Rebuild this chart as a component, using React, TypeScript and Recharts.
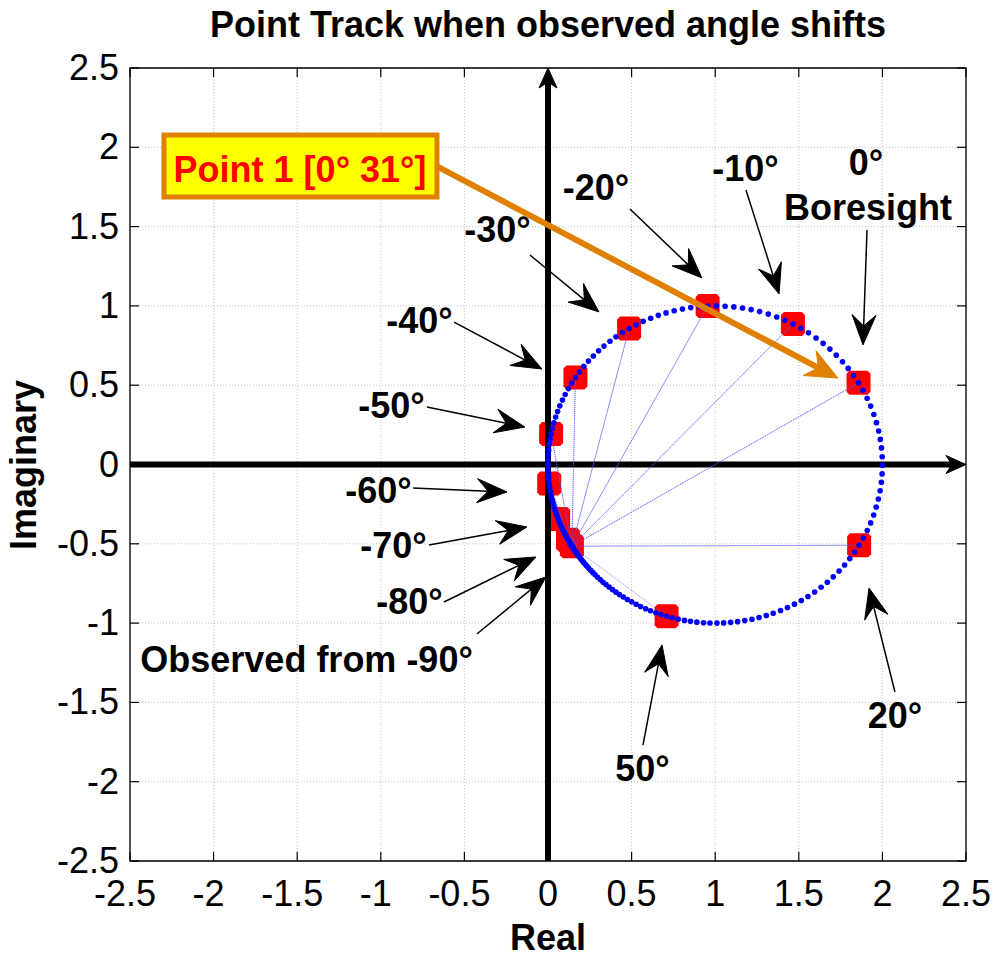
import React from "react";
import {
  ScatterChart,
  Scatter,
  XAxis,
  YAxis,
  CartesianGrid,
  ReferenceLine,
  ReferenceDot,
  ReferenceArea,
} from "recharts";

// Phase (deg) of the tracked point around the circle centre, one entry per
// observed angle, from -90° up to 90° in 1° steps.
const trackPhaseDeg = [
  211.0, 211.0, 210.9, 210.8, 210.6, 210.3, 210.0, 209.7, 209.3, 208.8,
  208.3, 207.7, 207.1, 206.4, 205.7, 204.9, 204.0, 203.1, 202.2, 201.2,
  200.1, 199.0, 197.9, 196.7, 195.4, 194.1, 192.8, 191.4, 189.9, 188.4,
  186.9, 185.3, 183.7, 182.0, 180.2, 178.5, 176.6, 174.8, 172.8, 170.9,
  168.9, 166.9, 164.8, 162.6, 160.5, 158.3, 156.0, 153.8, 151.4, 149.1,
  146.7, 144.3, 141.8, 139.3, 136.8, 134.2, 131.7, 129.0, 126.4, 123.7,
  121.0, 118.3, 115.5, 112.7, 109.9, 107.1, 104.2, 101.3, 98.4, 95.5,
  92.6, 89.6, 86.6, 83.6, 80.6, 77.6, 74.6, 71.5, 68.4, 65.4,
  62.3, 59.2, 56.1, 52.9, 49.8, 46.7, 43.6, 40.4, 37.3, 34.1,
  31.0,
  27.9, 24.7, 21.6, 18.4, 15.3, 12.2, 9.1, 6.0, 2.8, -0.3,
  -3.4, -6.4, -9.5, -12.6, -15.6, -18.6, -21.6, -24.6, -27.6, -30.6,
  -33.5, -36.4, -39.3, -42.2, -45.1, -47.9, -50.7, -53.5, -56.3, -59.0,
  -61.7, -64.4, -67.0, -69.7, -72.2, -74.8, -77.3, -79.8, -82.3, -84.7,
  -87.1, -89.4, -91.8, -94.0, -96.3, -98.5, -100.6, -102.8, -104.9, -106.9,
  -108.9, -110.8, -112.8, -114.6, -116.5, -118.2, -120.0, -121.7, -123.3, -124.9,
  -126.4, -127.9, -129.4, -130.8, -132.1, -133.4, -134.7, -135.9, -137.0, -138.1,
  -139.2, -140.2, -141.1, -142.0, -142.9, -143.7, -144.4, -145.1, -145.7, -146.3,
  -146.8, -147.3, -147.7, -148.0, -148.3, -148.6, -148.8, -148.9, -149.0, -149.0,
];
const firstObservedDeg = -90;
const circleCenter = { re: 1, im: 0 };
const circleRadius = 1;

// observed angles that get a red marker, and the one the spokes start from
const markedAnglesDeg = [-90, -80, -70, -60, -50, -40, -30, -20, -10, 0, 20, 50];
const hubAngleDeg = -90;

const axisTicks = [-2.5, -2, -1.5, -1, -0.5, 0, 0.5, 1, 1.5, 2, 2.5];

// callout text anchors (centre/baseline) and arrows, in axis units
const callouts = [
  { text: "-20°", at: [0.287, 1.668], from: [0.49, 1.611], to: [0.921, 1.176] },
  { text: "-10°", at: [1.181, 1.788], from: [1.184, 1.731], to: [1.382, 1.075] },
  { text: "0°", at: [1.902, 1.825] },
  { text: "Boresight", at: [1.914, 1.542], from: [1.908, 1.479], to: [1.884, 0.754] },
  { text: "-30°", at: [-0.302, 1.403], from: [-0.108, 1.321], to: [0.305, 0.962] },
  { text: "-40°", at: [-0.769, 0.829], from: [-0.562, 0.898], to: [-0.036, 0.602] },
  { text: "-50°", at: [-0.936, 0.293], from: [-0.724, 0.363], to: [-0.138, 0.236] },
  { text: "-60°", at: [-1.014, -0.243], from: [-0.807, -0.148], to: [-0.245, -0.173] },
  { text: "-70°", at: [-0.924, -0.59], from: [-0.712, -0.508], to: [-0.126, -0.394] },
  { text: "-80°", at: [-0.828, -0.943], from: [-0.622, -0.867], to: [-0.072, -0.583] },
  { text: "Observed from -90°", at: [-1.444, -1.308], from: [-0.425, -1.069], to: [-0.012, -0.709] },
  { text: "50°", at: [0.565, -1.996], from: [0.568, -1.769], to: [0.682, -1.138] },
  { text: "20°", at: [2.075, -1.661], from: [2.075, -1.434], to: [1.92, -0.779] },
];

const pointLabel = "Point 1 [0° 31°]";
const pointBox = { x1: -2.297, x2: -0.664, y1: 1.687, y2: 2.078 };
const pointLabelAt = [-1.483, 1.781];
const pointArrow = { from: [-0.658, 1.876], to: [1.734, 0.545] };

const W = 995;
const H = 958;
const MARGIN = { top: 68, right: 29, left: 0, bottom: 0 };
const Y_AXIS_W = 130;
const X_AXIS_H = 97;
const PLOT_W = W - MARGIN.right - Y_AXIS_W;
const PLOT_H = H - MARGIN.top - X_AXIS_H;
const TICK_LEN = 9;
const FONT = '"Liberation Sans", Arial, Helvetica, sans-serif';
const ORANGE = "#E08000";

const toPoint = (phaseDeg: number) => {
  const a = (phaseDeg * Math.PI) / 180;
  return {
    x: circleCenter.re + circleRadius * Math.cos(a),
    y: circleCenter.im + circleRadius * Math.sin(a),
  };
};

const track = trackPhaseDeg.map(toPoint);
const pointAt = (deg: number) => track[deg - firstObservedDeg];
const markers = markedAnglesDeg.map(pointAt);
const hub = pointAt(hubAngleDeg);
const spokes = markers.flatMap((p) => [hub, p]);

const BlueDot = (p: any) => <circle cx={p.cx} cy={p.cy} r={2.8} fill="#0000ff" />;

const RedSquare = (p: any) => {
  const h = 12;
  const c = 3;
  const { cx, cy } = p;
  const d = `M${cx - h + c},${cy - h} L${cx + h - c},${cy - h} L${cx + h},${cy - h + c} L${cx + h},${cy + h - c} L${cx + h - c},${cy + h} L${cx - h + c},${cy + h} L${cx - h},${cy + h - c} L${cx - h},${cy - h + c} Z`;
  return <path d={d} fill="#ff0000" />;
};

const NoDot = () => <g />;

// line with a notched arrowhead at the (x2, y2) end
const arrow =
  (color: string, width: number, head: number, half: number, notch: number) =>
  (p: any) => {
    const { x1, y1, x2, y2 } = p;
    const len = Math.hypot(x2 - x1, y2 - y1) || 1;
    const ux = (x2 - x1) / len;
    const uy = (y2 - y1) / len;
    const nx = -uy;
    const ny = ux;
    const bx = x2 - ux * head;
    const by = y2 - uy * head;
    const kx = x2 - ux * notch;
    const ky = y2 - uy * notch;
    const d = `M${x2},${y2} L${bx + nx * half},${by + ny * half} L${kx},${ky} L${bx - nx * half},${by - ny * half} Z`;
    return (
      <g>
        <line x1={x1} y1={y1} x2={kx} y2={ky} stroke={color} strokeWidth={width} />
        <path d={d} fill={color} stroke={color} strokeWidth={1} strokeLinejoin="miter" />
      </g>
    );
  };

const labelShape = (text: string, color = "#000") => (p: any) => (
  <text
    x={p.cx}
    y={p.cy}
    textAnchor="middle"
    fontFamily={FONT}
    fontWeight="bold"
    fontSize={36}
    fill={color}
  >
    {text}
  </text>
);

const XTick = (props: any) => {
  const { x, y, payload } = props;
  const v = payload.value;
  return (
    <g>
      <line x1={x} y1={y} x2={x} y2={y - TICK_LEN} stroke="#000" strokeWidth={1.2} />
      <line x1={x} y1={y - PLOT_H} x2={x} y2={y - PLOT_H + TICK_LEN} stroke="#000" strokeWidth={1.2} />
      <text x={x - (v < 0 ? 5 : 0)} y={y + 45} textAnchor="middle" fontFamily={FONT} fontSize={36} fill="#000">
        {String(v)}
      </text>
    </g>
  );
};

const YTick = (props: any) => {
  const { x, y, payload } = props;
  return (
    <g>
      <line x1={x} y1={y} x2={x + TICK_LEN} y2={y} stroke="#000" strokeWidth={1.2} />
      <line x1={x + PLOT_W} y1={y} x2={x + PLOT_W - TICK_LEN} y2={y} stroke="#000" strokeWidth={1.2} />
      <text x={x - 11} y={y + 12} textAnchor="end" fontFamily={FONT} fontSize={36} fill="#000">
        {String(payload.value)}
      </text>
    </g>
  );
};

export default function App() {
  return (
    <div style={{ position: "absolute", left: 0, top: 0, width: W, height: H, background: "#fff" }}>
      <ScatterChart width={W} height={H} margin={MARGIN}>
        <CartesianGrid stroke="#c4c4c4" strokeDasharray="1 2" />
        <XAxis
          type="number"
          dataKey="x"
          domain={[-2.5, 2.5]}
          ticks={axisTicks}
          interval={0}
          allowDataOverflow
          height={X_AXIS_H}
          axisLine={false}
          tickLine={false}
          tickSize={0}
          tickMargin={0}
          tick={(p: any) => <XTick {...p} />}
        />
        <YAxis
          type="number"
          dataKey="y"
          domain={[-2.5, 2.5]}
          ticks={axisTicks}
          interval={0}
          allowDataOverflow
          width={Y_AXIS_W}
          axisLine={false}
          tickLine={false}
          tickSize={0}
          tickMargin={0}
          tick={(p: any) => <YTick {...p} />}
        />
        <ReferenceArea
          x1={-2.5}
          x2={2.5}
          y1={-2.5}
          y2={2.5}
          fill="none"
          stroke="#000"
          strokeWidth={1.3}
          zIndex={50}
        />
        <Scatter data={markers} shape={RedSquare} isAnimationActive={false} zIndex={300} />
        <ReferenceLine
          segment={[{ x: -2.5, y: 0 }, { x: 2.5, y: 0 }]}
          shape={arrow("#000", 6, 20, 9, 14)}
          zIndex={400}
        />
        <ReferenceLine
          segment={[{ x: 0, y: -2.5 }, { x: 0, y: 2.5 }]}
          shape={arrow("#000", 6, 20, 9, 14)}
          zIndex={400}
        />
        <Scatter
          data={spokes}
          shape={NoDot}
          line={{ stroke: "#5a5aff", strokeWidth: 1, strokeDasharray: "1 1", strokeOpacity: 0.75 }}
          lineType="joint"
          isAnimationActive={false}
          zIndex={450}
        />
        <Scatter data={track} shape={BlueDot} isAnimationActive={false} zIndex={500} />
        {callouts
          .filter((c) => c.from)
          .map((c) => (
            <ReferenceLine
              key={`arrow-${c.text}`}
              segment={[
                { x: c.from![0], y: c.from![1] },
                { x: c.to![0], y: c.to![1] },
              ]}
              shape={arrow("#000", 1.5, 30, 12, 19)}
              zIndex={700}
            />
          ))}
        {callouts.map((c) => (
          <ReferenceDot
            key={`label-${c.text}`}
            x={c.at[0]}
            y={c.at[1]}
            r={1}
            shape={labelShape(c.text)}
            zIndex={700}
          />
        ))}
        <ReferenceArea
          x1={pointBox.x1}
          x2={pointBox.x2}
          y1={pointBox.y1}
          y2={pointBox.y2}
          fill="#ffff00"
          fillOpacity={1}
          stroke={ORANGE}
          strokeWidth={5}
          zIndex={800}
        />
        <ReferenceDot
          x={pointLabelAt[0]}
          y={pointLabelAt[1]}
          r={1}
          shape={labelShape(pointLabel, "#ff0000")}
          zIndex={850}
        />
        <ReferenceLine
          segment={[
            { x: pointArrow.from[0], y: pointArrow.from[1] },
            { x: pointArrow.to[0], y: pointArrow.to[1] },
          ]}
          shape={arrow(ORANGE, 6, 32, 14, 22)}
          zIndex={850}
        />
      </ScatterChart>
      <svg
        width={W}
        height={H}
        style={{ position: "absolute", left: 0, top: 0, pointerEvents: "none" }}
      >
        <text x={548} y={37} textAnchor="middle" fontFamily={FONT} fontWeight="bold" fontSize={36} fill="#000">
          Point Track when observed angle shifts
        </text>
        <text x={548} y={950} textAnchor="middle" fontFamily={FONT} fontWeight="bold" fontSize={36} fill="#000">
          Real
        </text>
        <text
          transform="translate(36,465) rotate(-90)"
          textAnchor="middle"
          fontFamily={FONT}
          fontWeight="bold"
          fontSize={36}
          fill="#000"
        >
          Imaginary
        </text>
      </svg>
    </div>
  );
}
